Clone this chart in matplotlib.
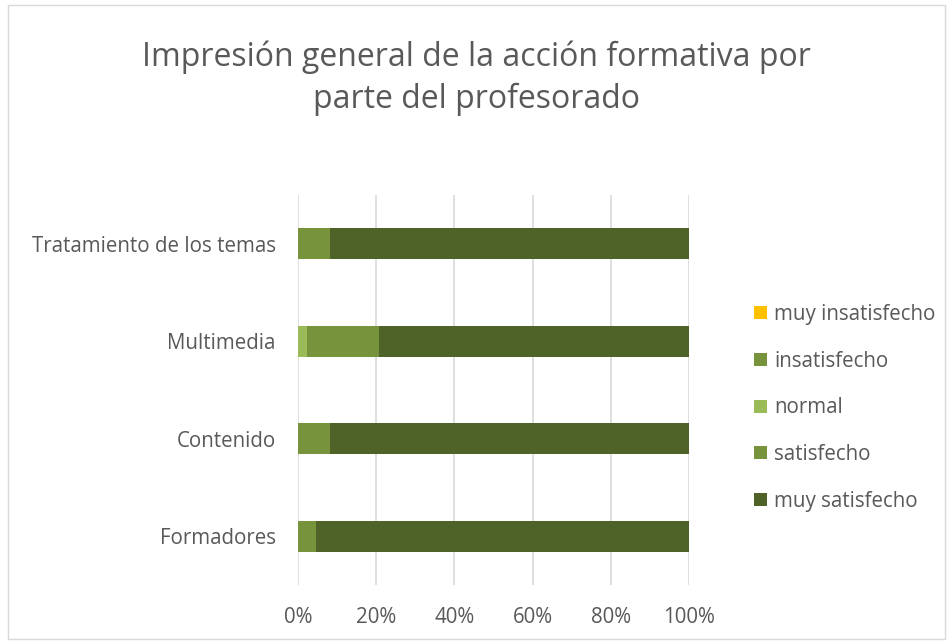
import matplotlib
matplotlib.use('Agg')
import matplotlib.pyplot as plt
from matplotlib.patches import Rectangle
from matplotlib.ticker import PercentFormatter

categorias = ["Formadores", "Contenido", "Multimedia", "Tratamiento de los temas"]
niveles = ["muy insatisfecho", "insatisfecho", "normal", "satisfecho", "muy satisfecho"]
muy_insatisfecho = [0, 0, 0, 0]
insatisfecho = [0, 0, 0, 0]
normal = [0, 0, 2.2, 0]
satisfecho = [4.7, 8.3, 18.5, 8.3]
muy_satisfecho = [95.3, 91.7, 79.3, 91.7]
colores = ["#FFC000", "#77933C", "#9BBB59", "#77933C", "#4F6228"]

plt.rcParams['font.family'] = ['Open Sans', 'DejaVu Sans']
gris = "#595959"

fig = plt.figure(figsize=(9.53, 6.44), dpi=100)
fig.patches.append(Rectangle((0.008, 0.008), 0.984, 0.984, transform=fig.transFigure,
                             fill=False, edgecolor="#D9D9D9", linewidth=1))
ax = fig.add_axes([298 / 953, 1 - 585 / 644, 391 / 953, 390 / 644])

series = [muy_insatisfecho, insatisfecho, normal, satisfecho, muy_satisfecho]
izquierda = [0] * len(categorias)
for nombre, valores, color in zip(niveles, series, colores):
    ax.barh(categorias, valores, left=izquierda, height=0.32, color=color, label=nombre)
    izquierda = [a + b for a, b in zip(izquierda, valores)]

ax.set_xlim(0, 100)
ax.set_ylim(-0.5, 3.5)
ax.set_xticks(range(0, 101, 20))
ax.xaxis.set_major_formatter(PercentFormatter(decimals=0))
ax.grid(axis='x', color="#D9D9D9", linewidth=1.2)
ax.set_axisbelow(True)
for s in ax.spines.values():
    s.set_visible(False)
ax.tick_params(length=0, labelsize=14.8, colors=gris, pad=16)
ax.tick_params(axis='x', pad=16)

fig.text(0.5, 1 - 78 / 644, "Impresión general de la acción formativa por\nparte del profesorado",
         ha='center', va='center', fontsize=23, color=gris, linespacing=1.35)

leg = ax.legend(loc='center left', bbox_to_anchor=(1.12, 0.454), frameon=False,
                fontsize=14.8, labelcolor=gris, handlelength=0.6, handleheight=0.6,
                handletextpad=0.35, labelspacing=1.25)

fig.savefig("out.png", dpi=100)
